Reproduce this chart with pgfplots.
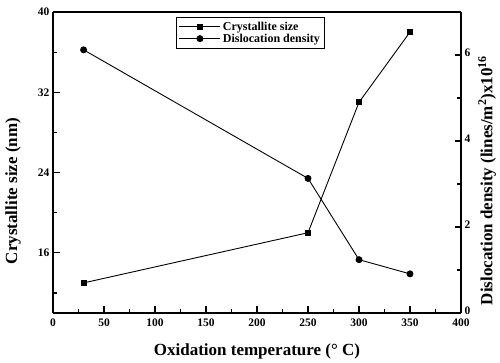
\documentclass[border=0pt]{standalone}
\usepackage{fontspec}
\setmainfont{Liberation Serif}
\usepackage{pgfplots}
\pgfplotsset{compat=1.18}
\begin{document}
\begin{tikzpicture}
\path[use as bounding box] (0,0) rectangle (500pt,363pt);
\pgfplotsset{
  every axis/.append style={
    scale only axis, width=408pt, height=301pt,
    xmin=0, xmax=400,
    tick align=inside,
    major tick length=6.5pt, minor tick length=4pt,
    every tick/.style={black, line width=1.2pt},
    axis line style={line width=1.4pt},
    tick label style={font=\bfseries\fontsize{11.5}{13}\selectfont},
    label style={font=\bfseries\fontsize{17}{19}\selectfont},
    /pgf/number format/assume math mode=true,
  }
}
\begin{axis}[
  at={(53pt,50pt)}, anchor=south west,
  axis y line*=left, axis x line*=box,
  ymin=10, ymax=40,
  ytick={16,24,32,40}, minor ytick={12,20,28,36},
  xtick={0,50,...,400}, minor xtick={25,75,...,375},
  xtick pos=bottom,
  xticklabel style={yshift=-2pt},
  xlabel={Oxidation temperature (° C)},
  ylabel={Crystallite size (nm)},
  xlabel style={at={(axis description cs:0.5,-0.126)}, anchor=center},
  ylabel style={at={(axis description cs:-0.098,0.405)}, anchor=center},
  legend style={at={(0.302,0.983)}, anchor=north west, draw=black, line width=0.6pt,
    font=\bfseries\fontsize{12}{14}\selectfont, row sep=-2pt, inner sep=2.5pt},
  legend cell align=left,
  legend image code/.code={%
    \draw[mark repeat=2,mark phase=2,#1] plot coordinates {(0cm,0cm) (0.72cm,0cm) (1.44cm,0cm)};},
]
\addplot[black, line width=0.9pt, mark=square*, mark size=2.4pt, mark options={solid}]
  coordinates {(30,13) (250,18) (300,31) (350,38)};
\addlegendentry{Crystallite size}
\addlegendimage{black, line width=0.9pt, mark=*, mark size=3pt}
\addlegendentry{Dislocation density}
\end{axis}
\begin{axis}[
  at={(53pt,50pt)}, anchor=south west,
  axis y line*=right, axis x line=none,
  ymin=0, ymax=7,
  ytick={0,2,4,6}, minor ytick={1,3,5},
  yticklabel style={yshift=2.5pt},
  ylabel={Dislocation density (lines/m$^{\mathbf{2}}$)x10$^{\mathbf{16}}$},
  ylabel style={at={(axis description cs:1.064,0.44)}, anchor=center},
]
\addplot[black, line width=0.9pt, mark=*, mark size=3pt]
  coordinates {(30,6.12) (250,3.13) (300,1.24) (350,0.91)};
\end{axis}
\end{tikzpicture}
\end{document}
